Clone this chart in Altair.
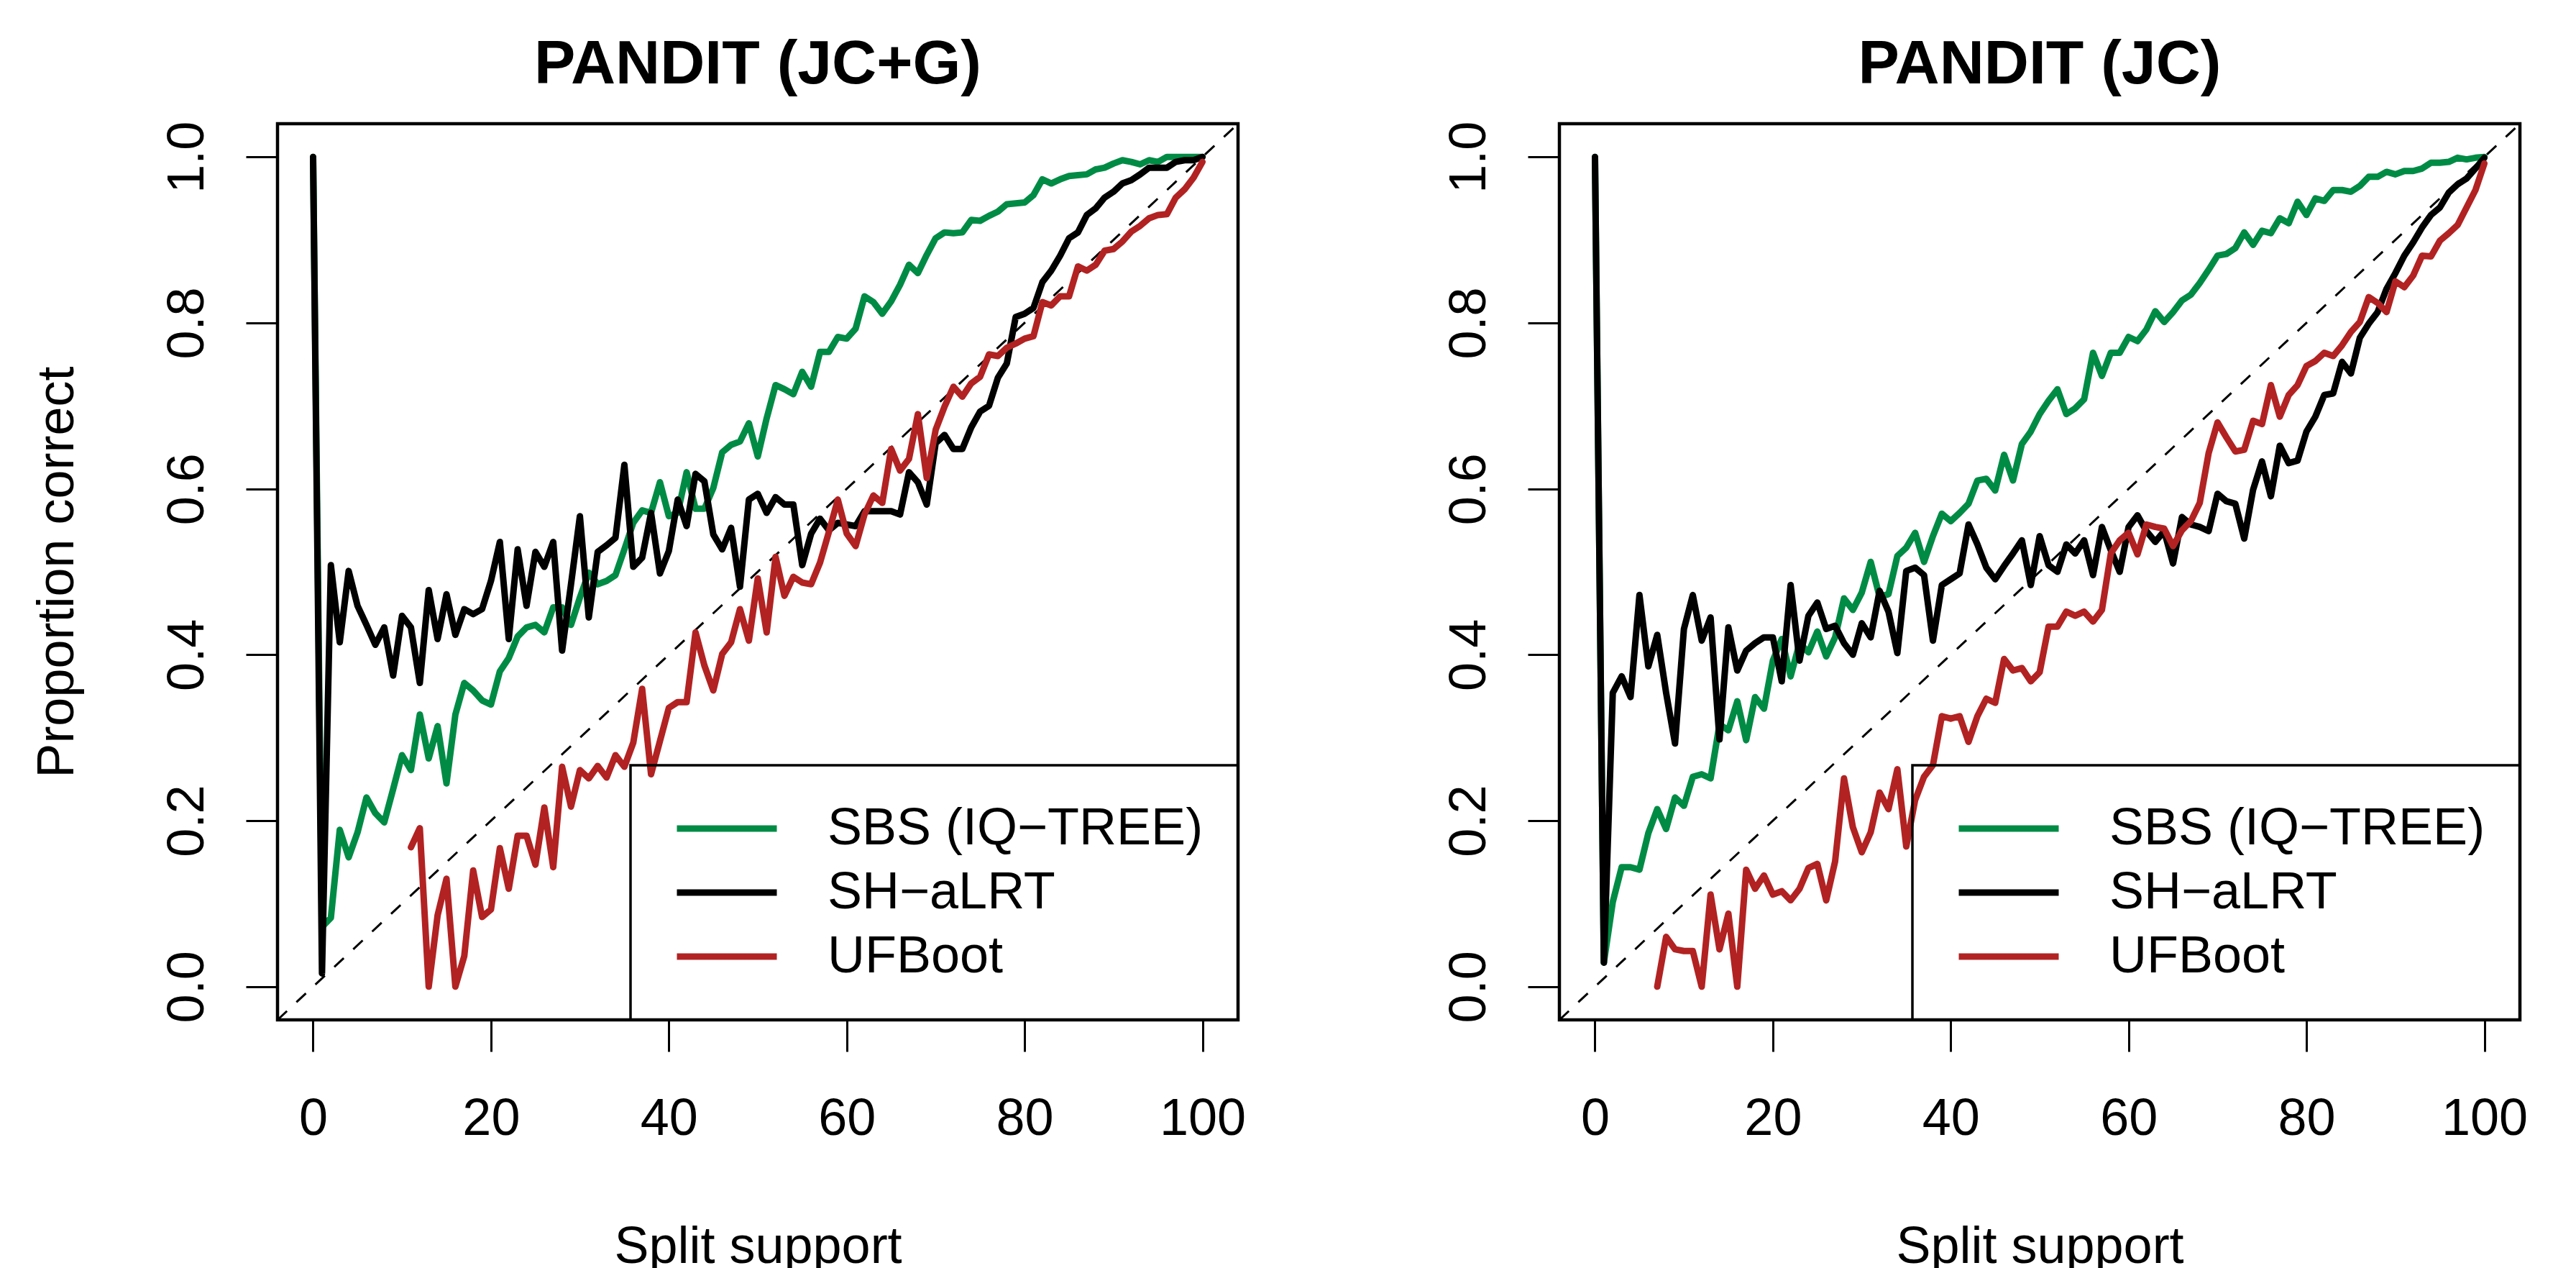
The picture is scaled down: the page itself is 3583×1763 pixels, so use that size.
import altair as alt
import pandas as pd

# ---------------- data ----------------
support = list(range(101))

series_names = ["SBS (IQ−TREE)", "SH−aLRT", "UFBoot"]
series_colors = ["#008B45", "#000000", "#B22222"]
panel_titles = ["PANDIT (JC+G)", "PANDIT (JC)"]
x_ticks = [0, 20, 40, 60, 80, 100]
y_ticks = [0.0, 0.2, 0.4, 0.6, 0.8, 1.0]
diag_support = [-4, 104]

# Panel 1: PANDIT (JC+G)
jcg_sbs = [
    1.0, 0.072, 0.083, 0.189, 0.156, 0.186, 0.228, 0.209, 0.198, 0.238,
    0.279, 0.261, 0.328, 0.275, 0.314, 0.245, 0.328, 0.366, 0.357, 0.345,
    0.340, 0.380, 0.396, 0.422, 0.433, 0.436, 0.427, 0.457, 0.457, 0.436,
    0.469, 0.499, 0.485, 0.489, 0.496, 0.527, 0.559, 0.574, 0.571, 0.608,
    0.567, 0.571, 0.620, 0.576, 0.576, 0.601, 0.644, 0.653, 0.657, 0.679,
    0.639, 0.685, 0.725, 0.720, 0.714, 0.741, 0.723, 0.765, 0.765, 0.783,
    0.781, 0.793, 0.832, 0.825, 0.811, 0.826, 0.846, 0.870, 0.860, 0.882,
    0.902, 0.909, 0.908, 0.909, 0.924, 0.923, 0.929, 0.934, 0.943, 0.944,
    0.945, 0.954, 0.973, 0.968, 0.973, 0.977, 0.978, 0.979, 0.985, 0.987,
    0.992, 0.996, 0.994, 0.991, 0.996, 0.994, 1.0, 1.0, 1.0, 1.0,
    1.0,
]
jcg_shalrt = [
    1.0, 0.016, 0.508, 0.415, 0.501, 0.459, 0.436, 0.412, 0.433, 0.375,
    0.447, 0.433, 0.366, 0.478, 0.419, 0.473, 0.424, 0.455, 0.449, 0.455,
    0.489, 0.536, 0.419, 0.527, 0.459, 0.524, 0.506, 0.536, 0.405, 0.485,
    0.567, 0.445, 0.524, 0.532, 0.541, 0.629, 0.506, 0.517, 0.571, 0.498,
    0.525, 0.587, 0.555, 0.618, 0.609, 0.545, 0.527, 0.553, 0.482, 0.587,
    0.594, 0.571, 0.590, 0.581, 0.581, 0.508, 0.546, 0.564, 0.550, 0.559,
    0.557, 0.555, 0.573, 0.573, 0.573, 0.573, 0.569, 0.620, 0.608, 0.581,
    0.655, 0.665, 0.648, 0.648, 0.674, 0.693, 0.700, 0.734, 0.751, 0.807,
    0.811, 0.818, 0.849, 0.863, 0.881, 0.902, 0.909, 0.930, 0.938, 0.951,
    0.958, 0.968, 0.972, 0.979, 0.987, 0.987, 0.987, 0.994, 0.996, 0.996,
    1.0,
]
jcg_ufboot = [
    None, None, None, None, None, None, None, None, None, None,
    None, 0.168, 0.191, 0.0, 0.086, 0.130, 0.0, 0.037, 0.140, 0.084,
    0.093, 0.167, 0.118, 0.182, 0.182, 0.147, 0.216, 0.144, 0.265, 0.217,
    0.261, 0.251, 0.266, 0.252, 0.279, 0.265, 0.294, 0.359, 0.256, 0.296,
    0.336, 0.343, 0.343, 0.427, 0.387, 0.357, 0.401, 0.415, 0.455, 0.417,
    0.492, 0.427, 0.518, 0.471, 0.494, 0.487, 0.485, 0.511, 0.548, 0.587,
    0.546, 0.531, 0.569, 0.592, 0.583, 0.648, 0.622, 0.636, 0.690, 0.613,
    0.671, 0.699, 0.723, 0.711, 0.727, 0.735, 0.762, 0.760, 0.770, 0.775,
    0.781, 0.784, 0.825, 0.821, 0.832, 0.832, 0.868, 0.863, 0.870, 0.887,
    0.889, 0.898, 0.910, 0.917, 0.926, 0.930, 0.931, 0.951, 0.961, 0.975,
    0.994,
]

# Panel 2: PANDIT (JC)
jc_sbs = [
    1.0, 0.029, 0.102, 0.144, 0.144, 0.141, 0.185, 0.214, 0.190, 0.228,
    0.218, 0.253, 0.256, 0.251, 0.316, 0.309, 0.344, 0.297, 0.349, 0.335,
    0.393, 0.419, 0.374, 0.414, 0.403, 0.428, 0.398, 0.421, 0.468, 0.454,
    0.475, 0.512, 0.470, 0.473, 0.519, 0.529, 0.547, 0.512, 0.543, 0.570,
    0.561, 0.571, 0.582, 0.610, 0.612, 0.598, 0.641, 0.610, 0.654, 0.669,
    0.690, 0.706, 0.720, 0.690, 0.697, 0.708, 0.764, 0.736, 0.764, 0.764,
    0.783, 0.778, 0.792, 0.814, 0.801, 0.813, 0.827, 0.834, 0.848, 0.864,
    0.881, 0.883, 0.890, 0.909, 0.894, 0.911, 0.908, 0.926, 0.920, 0.946,
    0.930, 0.950, 0.947, 0.960, 0.960, 0.958, 0.965, 0.976, 0.976, 0.982,
    0.979, 0.983, 0.983, 0.986, 0.993, 0.993, 0.994, 0.999, 0.997, 0.999,
    1.0,
]
jc_shalrt = [
    1.0, 0.029, 0.354, 0.374, 0.349, 0.472, 0.386, 0.424, 0.354, 0.293,
    0.431, 0.472, 0.417, 0.445, 0.298, 0.433, 0.381, 0.405, 0.414, 0.421,
    0.421, 0.368, 0.484, 0.393, 0.447, 0.463, 0.431, 0.435, 0.414, 0.400,
    0.438, 0.421, 0.477, 0.452, 0.402, 0.501, 0.505, 0.496, 0.417, 0.484,
    0.491, 0.498, 0.557, 0.533, 0.505, 0.491, 0.507, 0.522, 0.538, 0.484,
    0.543, 0.508, 0.500, 0.533, 0.522, 0.538, 0.496, 0.554, 0.526, 0.500,
    0.554, 0.568, 0.549, 0.536, 0.549, 0.510, 0.566, 0.557, 0.554, 0.549,
    0.594, 0.585, 0.582, 0.540, 0.599, 0.633, 0.591, 0.652, 0.631, 0.634,
    0.669, 0.687, 0.713, 0.715, 0.753, 0.739, 0.782, 0.799, 0.813, 0.841,
    0.860, 0.881, 0.897, 0.915, 0.930, 0.939, 0.957, 0.967, 0.974, 0.986,
    0.999,
]
jc_ufboot = [
    None, None, None, None, None, None, None, 0.0, 0.060, 0.045,
    0.043, 0.043, 0.0, 0.111, 0.045, 0.088, 0.0, 0.141, 0.118, 0.134,
    0.111, 0.115, 0.104, 0.118, 0.143, 0.148, 0.104, 0.151, 0.251, 0.192,
    0.162, 0.186, 0.234, 0.214, 0.262, 0.169, 0.225, 0.253, 0.267, 0.326,
    0.323, 0.326, 0.295, 0.326, 0.347, 0.342, 0.395, 0.381, 0.384, 0.368,
    0.379, 0.434, 0.434, 0.452, 0.447, 0.452, 0.440, 0.454, 0.522, 0.538,
    0.547, 0.521, 0.557, 0.554, 0.552, 0.531, 0.550, 0.561, 0.583, 0.643,
    0.680, 0.662, 0.645, 0.647, 0.682, 0.678, 0.725, 0.687, 0.713, 0.725,
    0.748, 0.754, 0.764, 0.760, 0.773, 0.789, 0.801, 0.831, 0.824, 0.813,
    0.850, 0.843, 0.857, 0.881, 0.880, 0.899, 0.908, 0.918, 0.939, 0.960,
    0.992,
]

FONT = "Liberation Sans"


def make_df(values_by_series):
    rows = []
    for name, vals in zip(series_names, values_by_series):
        for s, v in zip(support, vals):
            if v is not None:
                rows.append({"support": s, "prop": v, "method": name})
    return pd.DataFrame(rows)


diag_df = pd.DataFrame({"support": diag_support})


def panel(df, title, ytitle):
    x_enc = alt.X(
        "support:Q",
        scale=alt.Scale(domain=[-4, 104], nice=False, zero=False),
        axis=alt.Axis(
            values=x_ticks,
            title="Split support",
            labelPadding=58,
            titleY=337,
            titleBaseline="alphabetic",
        ),
    )
    y_axis_kwargs = dict(
        values=y_ticks,
        format=".1f",
        labelAngle=270,
        labelAlign="center",
        labelBaseline="alphabetic",
        labelPadding=60,
    )
    if ytitle:
        y_axis_kwargs.update(
            title=ytitle,
            titleAngle=270,
            titleX=-285,
            titleY=623,
            titleAlign="center",
            titleBaseline="alphabetic",
        )
    else:
        y_axis_kwargs.update(title=None)
    y_enc = alt.Y(
        "prop:Q",
        scale=alt.Scale(domain=[-0.04, 1.04], nice=False, zero=False),
        axis=alt.Axis(**y_axis_kwargs),
    )
    color_enc = alt.Color(
        "method:N",
        scale=alt.Scale(domain=series_names, range=series_colors),
        legend=alt.Legend(
            title=None,
            orient="bottom-right",
            offset=0,
            padding=48,
            symbolType="stroke",
            symbolSize=19321,
            symbolStrokeWidth=9,
            symbolOffset=12,
            labelOffset=66,
            labelFontSize=72,
            labelFont=FONT,
            labelColor="black",
            labelLimit=2000,
            clipHeight=80,
            rowPadding=9,
            strokeColor="black",
        ),
    )

    diag = (
        alt.Chart(diag_df)
        .transform_calculate(prop="datum.support / 100")
        .mark_line(clip=True, color="black", strokeDash=[18, 18], strokeWidth=3)
        .encode(x=x_enc, y=y_enc)
    )
    layers = [diag]
    for name in series_names:
        layers.append(
            alt.Chart(df)
            .transform_filter(alt.datum.method == name)
            .mark_line(clip=True, strokeWidth=9, strokeJoin="round", strokeCap="round")
            .encode(x=x_enc, y=y_enc, color=color_enc, order="support:Q")
        )
    return alt.layer(*layers).properties(
        width=1336,
        height=1246,
        title=alt.TitleParams(
            title,
            fontSize=86,
            fontWeight="bold",
            font=FONT,
            color="black",
            anchor="middle",
            frame="group",
            offset=-34,
            baseline="alphabetic",
        ),
    )


left = panel(make_df([jcg_sbs, jcg_shalrt, jcg_ufboot]), panel_titles[0], "Proportion correct")
right = panel(make_df([jc_sbs, jc_shalrt, jc_ufboot]), panel_titles[1], None)

chart = (
    alt.hconcat(left, right, spacing=447, bounds="flush")
    .resolve_legend(color="independent")
    .properties(padding={"left": 32, "top": 36, "right": 20, "bottom": 0}, background="white")
    .configure_view(stroke="black", strokeWidth=4.5, fill="white")
    .configure_axis(
        domain=False,
        grid=False,
        tickColor="black",
        tickWidth=3,
        tickSize=44,
        labelFont=FONT,
        labelFontSize=72,
        labelColor="black",
        titleFont=FONT,
        titleFontSize=72,
        titleFontWeight="normal",
        titleColor="black",
    )
    .configure_legend(strokeWidth=3.5)
)

chart.save("out.html", embed_options={"renderer": "svg", "actions": False})
